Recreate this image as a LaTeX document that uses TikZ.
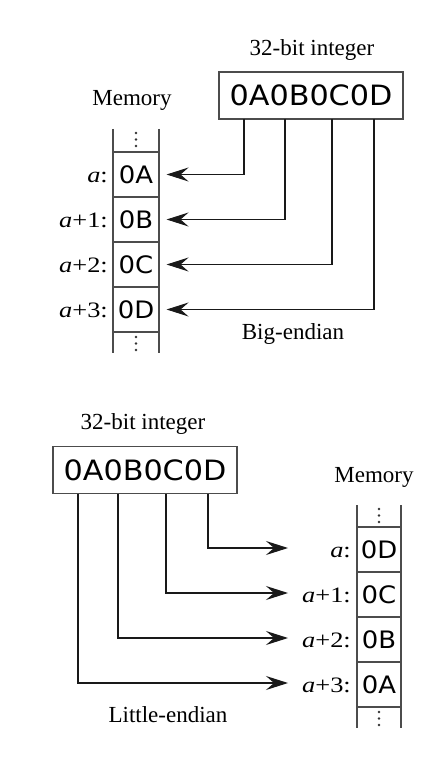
\documentclass[tikz,border=0pt]{standalone}
\usepackage{fontspec}
\setmainfont{Liberation Serif}
\newfontfamily\hexfont[FakeStretch=1.08]{DejaVu Sans}
\newfontfamily\addrfont[FakeStretch=1.2]{Liberation Serif}
\usetikzlibrary{arrows.meta}

\begin{document}
\begin{tikzpicture}[x=1pt,y=-1pt,
  rule/.style={draw=black!70, line width=1.1pt},
  arr/.style={draw=black!90, line width=1.1pt, -{Stealth[length=22pt,width=14pt,inset=8pt]}},
  caption/.style={inner sep=0pt, font=\fontsize{23}{25}\selectfont},
  intbox/.style={draw=black!70, line width=1.1pt, minimum width=184pt, minimum height=47pt, inner sep=0pt, font=\hexfont\fontsize{28}{30}\selectfont},
  cell/.style={draw=black!70, line width=1.1pt, minimum height=45pt, inner sep=0pt, font=\hexfont\fontsize{24}{26}\selectfont},
  addr/.style={anchor=base east, inner sep=0pt, font=\addrfont\fontsize{22}{24}\selectfont},
  dot/.style={fill=black!80, draw=none},
]
\useasboundingbox (0,0) rectangle (445,757);

% ---------------- Big-endian ----------------
\node[caption] (capT) at (312,50) {32-bit integer};
\node[intbox] (intT) at (311,95.5) {0A0B0C0D};
\node[caption] (memT) at (132,100) {Memory};

\draw[rule] (113,129) -- (113,353);
\draw[rule] (159,129) -- (159,353);
\foreach \yy in {133,139.5,146,337,343.5,350} \fill[dot] (136,\yy) circle (1.3pt);

\node[cell, minimum width=46pt] (t1) at (136,174.5) {0A};
\node[cell, minimum width=46pt] (t2) at (136,219.5) {0B};
\node[cell, minimum width=46pt] (t3) at (136,264.5) {0C};
\node[cell, minimum width=46pt] (t4) at (136,309.5) {0D};

\node[addr] (lt1) at (108,182) {\textit{a}:};
\node[addr] (lt2) at (108,227) {\textit{a}+1:};
\node[addr] (lt3) at (108,272) {\textit{a}+2:};
\node[addr] (lt4) at (108,317) {\textit{a}+3:};

\coordinate (st1) at (244,119);
\coordinate (st2) at (285,119);
\coordinate (st3) at (332,119);
\coordinate (st4) at (374,119);
\draw[arr, shorten >=7pt] (st1) |- (t1.east);
\draw[arr, shorten >=7pt] (st2) |- (t2.east);
\draw[arr, shorten >=7pt] (st3) |- (t3.east);
\draw[arr, shorten >=7pt] (st4) |- (t4.east);

\node[caption] (endT) at (293,334) {Big-endian};

% ---------------- Little-endian ----------------
\node[caption] (capB) at (143,424) {32-bit integer};
\node[intbox] (intB) at (145,470) {0A0B0C0D};
\node[caption] (memB) at (374,477) {Memory};

\draw[rule] (357,505) -- (357,728);
\draw[rule] (401,505) -- (401,728);
\foreach \yy in {509,515.5,522,712,718.5,725} \fill[dot] (379,\yy) circle (1.3pt);

\node[cell, minimum width=44pt] (b1) at (379,549.5) {0D};
\node[cell, minimum width=44pt] (b2) at (379,594.5) {0C};
\node[cell, minimum width=44pt] (b3) at (379,639.5) {0B};
\node[cell, minimum width=44pt] (b4) at (379,684.5) {0A};

\node[addr] (lb1) at (351,557) {\textit{a}:};
\node[addr] (lb2) at (351,602) {\textit{a}+1:};
\node[addr] (lb3) at (351,647) {\textit{a}+2:};
\node[addr] (lb4) at (351,692) {\textit{a}+3:};

\coordinate (sb1) at (208,494);
\coordinate (sb2) at (166,494);
\coordinate (sb3) at (118,494);
\coordinate (sb4) at (78,494);
\coordinate (eb1) at (288,548);
\coordinate (eb2) at (288,593);
\coordinate (eb3) at (288,638);
\coordinate (eb4) at (288,683);
\draw[arr] (sb1) |- (eb1);
\draw[arr] (sb2) |- (eb2);
\draw[arr] (sb3) |- (eb3);
\draw[arr] (sb4) |- (eb4);

\node[caption] (endB) at (168,715) {Little-endian};
\end{tikzpicture}
\end{document}
